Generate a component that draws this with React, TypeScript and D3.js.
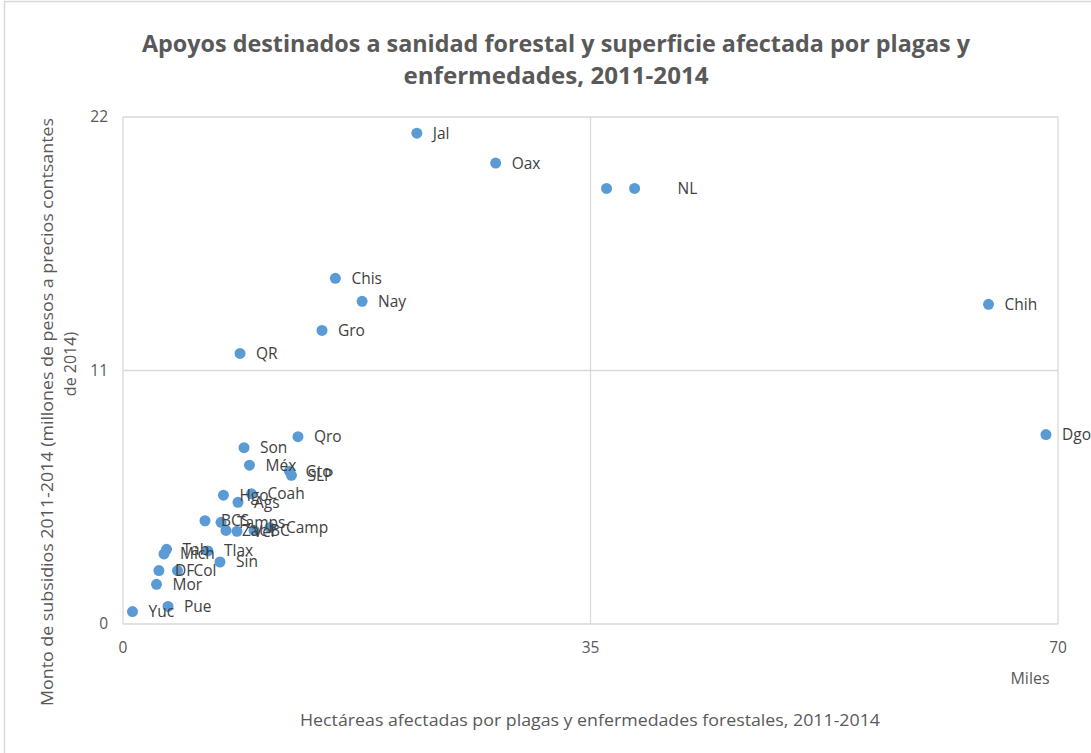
import React from "react";
import * as d3 from "d3";

const states = ["Jal","Oax","","NL","Chis","Nay","Chih","Gro","QR","Dgo","Qro","Son","Méx","Gto","SLP","Hgo","Coah","Ags","BCS","Tamps","Zac","Ver","BC","Camp","Tab","Mich","Tlax","Sin","DF","Col","Mor","Yuc","Pue"];
const hectareas = [22.0,27.9,36.2,38.3,15.9,17.9,64.8,14.9,8.76,69.1,13.1,9.06,9.47,12.46,12.61,7.52,9.62,8.61,6.14,7.34,7.71,8.53,9.81,11.0,3.26,3.07,6.36,7.26,2.69,4.08,2.51,0.71,3.37];
const subsidios = [21.3,20.0,18.9,18.9,15.0,14.0,13.87,12.74,11.74,8.22,8.13,7.65,6.89,6.63,6.45,5.59,5.65,5.28,4.48,4.41,4.06,4.02,4.06,4.19,3.24,3.04,3.17,2.69,2.32,2.32,1.72,0.54,0.76];
const xTicks = [0, 35, 70];
const yTicks = [0, 11, 22];
const labelNudge: Record<string, number> = { NL: 43 };

const title1 = "Apoyos destinados a sanidad forestal y superficie afectada por plagas y";
const title2 = "enfermedades, 2011-2014";
const xTitle = "Hectáreas afectadas por plagas y enfermedades forestales, 2011-2014";
const yTitle1 = "Monto de subsidios 2011-2014  (millones de pesos a precios contsantes";
const yTitle2 = "de 2014)";
const unitLabel = "Miles";

export default function App() {
  const W = 1091, H = 753;
  const left = 123, right = 1058, top = 117, bottom = 624;
  const x = d3.scaleLinear().domain([0, 70]).range([left, right]);
  const y = d3.scaleLinear().domain([0, 22]).range([bottom, top]);
  const grid = "#d9d9d9";
  const narrow = "'Liberation Sans Narrow', 'Open Sans', sans-serif";
  const sans = "'Open Sans', 'Noto Sans', sans-serif";

  return (
    <svg width={W} height={H} style={{ position: "absolute", left: 0, top: 0, background: "#fff" }}>
      <rect x={4.5} y={1.5} width={1200} height={900} fill="#fff" stroke={grid} strokeWidth={1.5} />
      <text x={556} y={52} textAnchor="middle" fontFamily={narrow} fontWeight="bold" fontSize={24} fill="#595959" textLength={828} lengthAdjust="spacingAndGlyphs">{title1}</text>
      <text x={556} y={84} textAnchor="middle" fontFamily={narrow} fontWeight="bold" fontSize={24} fill="#595959" textLength={305} lengthAdjust="spacingAndGlyphs">{title2}</text>

      {yTicks.filter(t => t > 0).map(t => (
        <line key={"gy" + t} x1={left} x2={right} y1={y(t)} y2={y(t)} stroke={grid} strokeWidth={1.3} />
      ))}
      {xTicks.filter(t => t > 0).map(t => (
        <line key={"gx" + t} x1={x(t)} x2={x(t)} y1={top} y2={bottom} stroke={grid} strokeWidth={1.3} />
      ))}
      <line x1={left} x2={left} y1={top} y2={bottom} stroke={grid} strokeWidth={1.3} />
      <line x1={left} x2={right} y1={bottom} y2={bottom} stroke={grid} strokeWidth={1.3} />

      {yTicks.map(t => (
        <text key={"ty" + t} x={108} y={y(t)} dy="0.35em" textAnchor="end" fontFamily={sans} fontSize={15.5} fill="#595959">{t}</text>
      ))}
      {xTicks.map(t => (
        <text key={"tx" + t} x={x(t)} y={648} dy="0.35em" textAnchor="middle" fontFamily={sans} fontSize={15.5} fill="#595959">{t}</text>
      ))}
      <text x={1030} y={678} dy="0.35em" textAnchor="middle" fontFamily={sans} fontSize={16} fill="#595959">{unitLabel}</text>

      <text x={590} y={720} dy="0.35em" textAnchor="middle" fontFamily={narrow} fontSize={17} fill="#595959" textLength={580} lengthAdjust="spacingAndGlyphs">{xTitle}</text>
      <text transform="translate(47,412) rotate(-90)" dy="0.35em" textAnchor="middle" fontFamily={sans} fontSize={16} fill="#595959" textLength={588} lengthAdjust="spacingAndGlyphs">{yTitle1}</text>
      <text transform="translate(70,364) rotate(-90)" dy="0.35em" textAnchor="middle" fontFamily={sans} fontSize={16} fill="#595959">{yTitle2}</text>

      {states.map((s, i) => (
        <circle key={"p" + i} cx={x(hectareas[i])} cy={y(subsidios[i])} r={5.5} fill="#5b9bd5" />
      ))}
      {states.map((s, i) => s ? (
        <text key={"l" + i} x={x(hectareas[i]) + (labelNudge[s] ?? 16)} y={y(subsidios[i])} dy="0.35em" fontFamily={sans} fontSize={15.5} fill="#404040">{s}</text>
      ) : null)}
    </svg>
  );
}
